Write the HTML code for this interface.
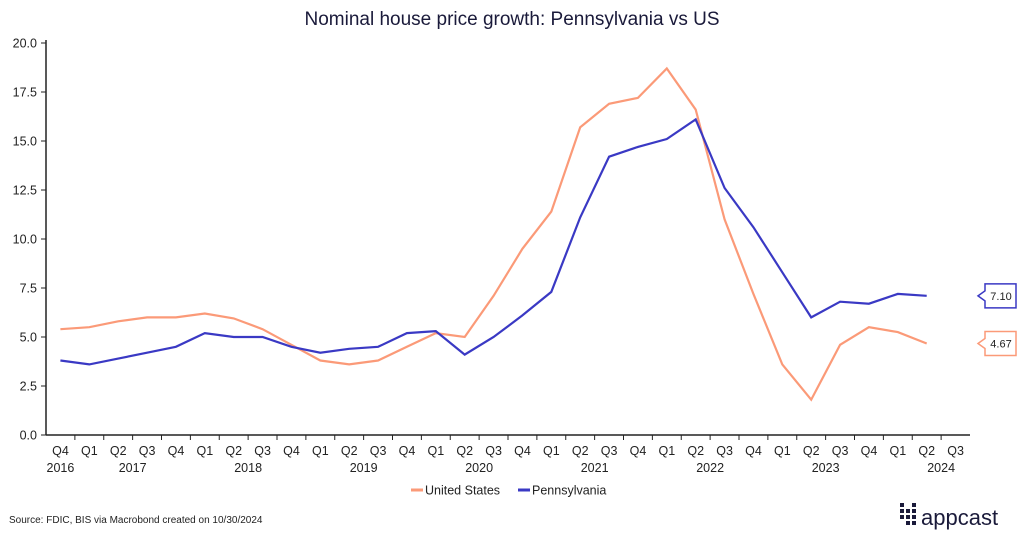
<!DOCTYPE html>
<html><head><meta charset="utf-8"><style>
body{margin:0;background:#fff;width:1024px;height:535px;overflow:hidden;font-family:"Liberation Sans",sans-serif}
</style></head><body>
<svg id="s" width="1024" height="535" xmlns="http://www.w3.org/2000/svg" font-family="Liberation Sans, sans-serif">
<text x="512" y="25" text-anchor="middle" font-size="19" fill="#1a1a3a">Nominal house price growth: Pennsylvania vs US</text>
</svg>
<script>
const s=document.getElementById('s');const NS='http://www.w3.org/2000/svg';
function el(t,a,txt){const e=document.createElementNS(NS,t);for(const k in a)e.setAttribute(k,a[k]);if(txt!==undefined)e.textContent=txt;s.appendChild(e);return e;}
const X0=46,DX=28.875,Y0=435,SY=19.6;
const xc=i=>X0+DX*(i+0.5), yv=v=>Y0-v*SY;
// y axis
el('line',{x1:X0,y1:40,x2:X0,y2:Y0,stroke:'#222','stroke-width':1.5});
for(let v=0;v<=20;v+=2.5){const y=yv(v);el('line',{x1:X0-5,y1:y,x2:X0,y2:y,stroke:'#222'});
el('text',{x:X0-9,y:y+4.5,'text-anchor':'end','font-size':12.5,fill:'#222'},v.toFixed(1));}
el('line',{x1:X0,y1:Y0,x2:X0+32*DX,y2:Y0,stroke:'#222','stroke-width':1.5});
const q=['Q4','Q1','Q2','Q3'];
for(let i=0;i<32;i++){el('text',{x:xc(i),y:455,'text-anchor':'middle','font-size':12.5,fill:'#222'},q[i%4]);
 if(i>0)el('line',{x1:X0+DX*i,y1:Y0,x2:X0+DX*i,y2:Y0+5,stroke:'#222'});}
el('text',{x:xc(0),y:472,'text-anchor':'middle','font-size':12.5,fill:'#222'},'2016');
for(let y=0;y<8;y++){el('text',{x:xc(2.5+4*y),y:472,'text-anchor':'middle','font-size':12.5,fill:'#222'},2017+y);}
const us=[5.4,5.5,5.8,6.0,6.0,6.2,5.95,5.4,4.6,3.8,3.6,3.8,4.5,5.2,5.0,7.1,9.5,11.4,15.7,16.9,17.2,18.7,16.6,11.0,7.2,3.6,1.8,4.6,5.5,5.25,4.67];
const pa=[3.8,3.6,3.9,4.2,4.5,5.2,5.0,5.0,4.5,4.2,4.4,4.5,5.2,5.3,4.1,5.0,6.1,7.3,11.1,14.2,14.7,15.1,16.1,12.6,10.6,8.3,6.0,6.8,6.7,7.2,7.1];
const pts=a=>a.map((v,i)=>xc(i).toFixed(1)+','+yv(v).toFixed(1)).join(' ');
el('polyline',{points:pts(us),fill:'none',stroke:'#fb9a78','stroke-width':2.2});
el('polyline',{points:pts(pa),fill:'none',stroke:'#3a39c4','stroke-width':2.2});
function tag(v,c,t){const y=yv(v);const x=978;
el('path',{d:`M${x} ${y} L${x+7} ${y-5} L${x+7} ${y-12} L${x+38} ${y-12} L${x+38} ${y+12} L${x+7} ${y+12} L${x+7} ${y+5} Z`,fill:'#fff',stroke:c,'stroke-width':1.5});
el('text',{x:x+23,y:y+4,'text-anchor':'middle','font-size':11,fill:'#222'},t);}
tag(7.1,'#3a39c4','7.10');tag(4.67,'#fb9a78','4.67');
// legend
el('line',{x1:411,y1:490,x2:423,y2:490,stroke:'#fb9a78','stroke-width':3});
el('text',{x:425,y:494.5,'font-size':12.5,fill:'#222'},'United States');
el('line',{x1:518,y1:490,x2:530,y2:490,stroke:'#3a39c4','stroke-width':3});
el('text',{x:532,y:494.5,'font-size':12.5,fill:'#222'},'Pennsylvania');
el('text',{x:9,y:523,'font-size':10,fill:'#222'},'Source: FDIC, BIS via Macrobond created on 10/30/2024');
// logo
const sq=[[0,0],[0,1],[0,2],[1,1],[1,2],[2,0],[2,1],[2,2],[1,3],[2,3]];
sq.forEach(([c,r])=>el('rect',{x:900+c*6,y:503+r*6,width:4,height:4,fill:'#1a1a3a'}));
el('text',{x:921,y:525,'font-size':22,fill:'#1a1a3a'},'appcast');
</script>
</body></html>
